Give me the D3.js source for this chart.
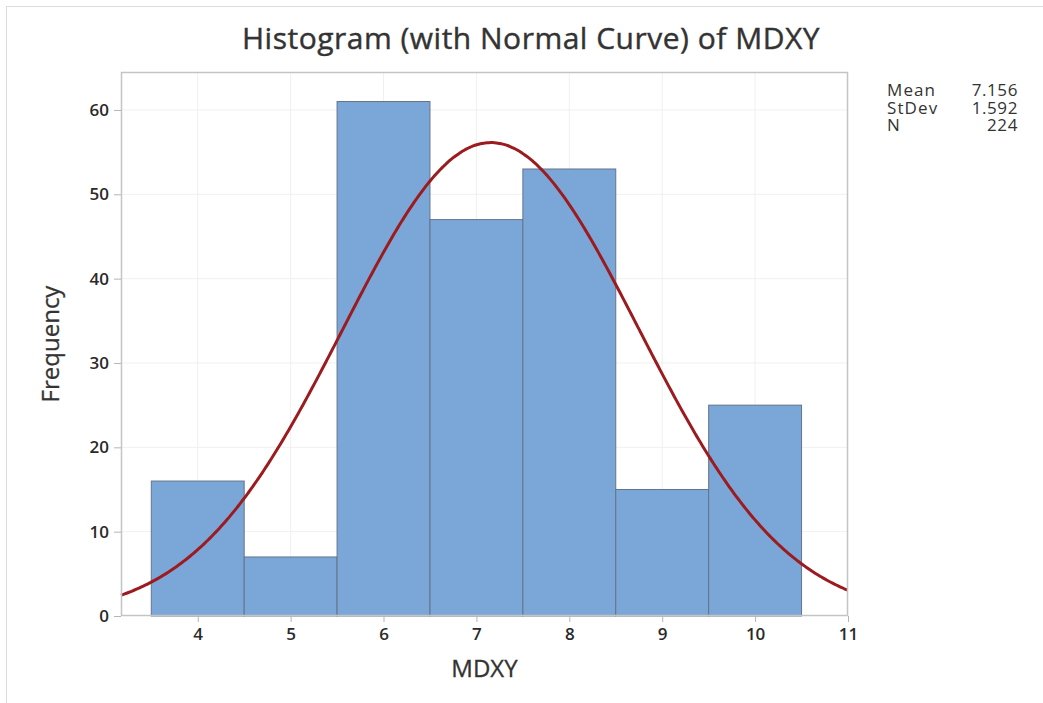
<!DOCTYPE html>
<html>
<head>
<meta charset="utf-8">
<script src="https://cdn.jsdelivr.net/npm/d3@7"></script>
<style>
  body { margin: 0; background: #fff; }
  text { font-family: "Open Sans", sans-serif; }
</style>
</head>
<body>
<script>
let w = 1043;
let h = 703;

// histogram bins (lower edge, upper edge) and counts
let binStarts = [3.5, 4.5, 5.5, 6.5, 7.5, 8.5, 9.5];
let binEnds = [4.5, 5.5, 6.5, 7.5, 8.5, 9.5, 10.5];
let counts = [16, 7, 61, 47, 53, 15, 25];

let xTicks = [4, 5, 6, 7, 8, 9, 10, 11];
let yTicks = [0, 10, 20, 30, 40, 50, 60];

let statNames = ['Mean', 'StDev', 'N'];
let statValues = ['7.156', '1.592', '224'];
let mean = 7.156;
let stdev = 1.592;
let n = 224;
let binWidth = 1;

let plotLeft = 121, plotRight = 848, plotTop = 72, plotBottom = 616;

let xScale = d3.scaleLinear().domain([3.174, 11]).range([plotLeft, plotRight]);
let yScale = d3.scaleLinear().domain([0, 64.5]).range([plotBottom, plotTop]);

let svg = d3.select('body')
  .append('svg')
  .attr('width', w)
  .attr('height', h);

// outer frame
svg.append('rect')
  .attr('x', 6.5).attr('y', 6.5)
  .attr('width', w + 20).attr('height', h + 20)
  .attr('fill', 'none')
  .attr('stroke', '#dcdcdc');

// gridlines
svg.append('g')
  .selectAll('line')
  .data(yTicks.slice(1))
  .enter()
  .append('line')
  .attr('x1', plotLeft).attr('x2', plotRight)
  .attr('y1', (d) => { return yScale(d); })
  .attr('y2', (d) => { return yScale(d); })
  .attr('stroke', '#f0f0f0');

svg.append('g')
  .selectAll('line')
  .data(xTicks.slice(0, -1))
  .enter()
  .append('line')
  .attr('y1', plotTop).attr('y2', plotBottom)
  .attr('x1', (d) => { return xScale(d); })
  .attr('x2', (d) => { return xScale(d); })
  .attr('stroke', '#f0f0f0');

// bars
svg.append('g')
  .selectAll('rect')
  .data(counts)
  .enter()
  .append('rect')
  .attr('x', (d, i) => { return xScale(binStarts[i]); })
  .attr('y', (d) => { return yScale(d); })
  .attr('width', (d, i) => { return xScale(binEnds[i]) - xScale(binStarts[i]); })
  .attr('height', (d) => { return yScale(0) - yScale(d); })
  .attr('fill', '#7ba7d8')
  .attr('stroke', '#647489')
  .attr('stroke-width', 1);

// normal curve from the shown mean / stdev / N
let curveX = d3.range(3.174, 11.0001, 0.02);
let curveLine = d3.line()
  .x((d) => { return xScale(d); })
  .y((d) => {
    let z = (d - mean) / stdev;
    return yScale(n * binWidth * Math.exp(-0.5 * z * z) / (stdev * Math.sqrt(2 * Math.PI)));
  })
  .curve(d3.curveBasis);

svg.append('path')
  .datum(curveX)
  .attr('d', curveLine)
  .attr('fill', 'none')
  .attr('stroke', '#9c1b1f')
  .attr('stroke-width', 3);

// plot frame
svg.append('rect')
  .attr('x', plotLeft + 0.5).attr('y', plotTop + 0.5)
  .attr('width', plotRight - plotLeft - 1).attr('height', plotBottom - plotTop - 1)
  .attr('fill', 'none')
  .attr('stroke', '#c4c4c4')
  .attr('stroke-width', 1.5);

// axes
let xAxis = d3.axisBottom(xScale).tickValues(xTicks).tickSize(6).tickPadding(6);
let yAxis = d3.axisLeft(yScale).tickValues(yTicks).tickSize(7).tickPadding(5);

let gx = svg.append('g')
  .attr('transform', 'translate(0,' + plotBottom + ')')
  .call(xAxis);
let gy = svg.append('g')
  .attr('transform', 'translate(' + plotLeft + ',0)')
  .call(yAxis);

[gx, gy].forEach((g) => {
  g.select('.domain').remove();
  g.selectAll('line').attr('stroke', '#b5b5b5');
  g.selectAll('text')
    .attr('font-size', '17px')
    .attr('font-weight', 600)
    .attr('fill', '#2a2a2a');
});

// titles
svg.append('text')
  .attr('x', 531).attr('y', 49)
  .attr('text-anchor', 'middle')
  .attr('font-size', '30px')
  .attr('letter-spacing', '0.5px')
  .attr('stroke', '#333')
  .attr('stroke-width', 0.4)
  .attr('fill', '#333')
  .text('Histogram (with Normal Curve) of MDXY');

svg.append('text')
  .attr('x', (plotLeft + plotRight) / 2).attr('y', 677)
  .attr('text-anchor', 'middle')
  .attr('font-size', '24px')
  .attr('stroke', '#333')
  .attr('stroke-width', 0.3)
  .attr('fill', '#333')
  .text('MDXY');

svg.append('text')
  .attr('transform', 'translate(59,' + (plotTop + plotBottom) / 2 + ') rotate(-90)')
  .attr('text-anchor', 'middle')
  .attr('font-size', '24px')
  .attr('stroke', '#333')
  .attr('stroke-width', 0.3)
  .attr('fill', '#333')
  .text('Frequency');

// stats box
let stats = svg.append('g');
stats.selectAll('text.name')
  .data(statNames)
  .enter()
  .append('text')
  .attr('class', 'name')
  .attr('x', 887)
  .attr('y', (d, i) => { return 96 + i * 17.5; })
  .attr('font-size', '17px')
  .attr('letter-spacing', '1.1px')
  .attr('fill', '#333')
  .text((d) => { return d; });

stats.selectAll('text.val')
  .data(statValues)
  .enter()
  .append('text')
  .attr('class', 'val')
  .attr('x', 1018)
  .attr('y', (d, i) => { return 96 + i * 17.5; })
  .attr('text-anchor', 'end')
  .attr('font-size', '17px')
  .attr('letter-spacing', '0.6px')
  .attr('fill', '#333')
  .text((d) => { return d; });
</script>
</body>
</html>
